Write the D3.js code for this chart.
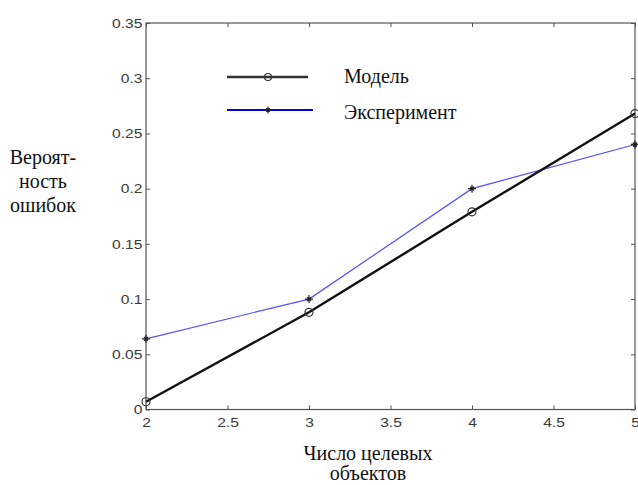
<!DOCTYPE html>
<html lang="ru">
<head>
  <meta charset="UTF-8" />
  <title>Вероятность ошибок</title>
  <script src="https://d3js.org/d3.v7.min.js"></script>
  <style>
    body { margin: 0; background: #fff; }
  </style>
</head>
<body>
  <svg id="chart" width="638" height="485"></svg>

  <script>
    // данные
    const targets = [2, 3, 4, 5];
    const model = [0.007, 0.088, 0.179, 0.268];
    const experiment = [0.064, 0.1, 0.2, 0.24];
    const xTicks = [2, 2.5, 3, 3.5, 4, 4.5, 5];
    const yTicks = [0, 0.05, 0.1, 0.15, 0.2, 0.25, 0.3, 0.35];
    const legendNames = ["Модель", "Эксперимент"];

    const svg = d3.select("#chart");
    const plotL = 146, plotR = 635, plotT = 23, plotB = 409.5;

    const x = d3.scaleLinear().domain([2, 5]).range([plotL, plotR]);
    const y = d3.scaleLinear().domain([0, 0.35]).range([plotB, plotT]);

    const axisColor = "#555";
    const tickFont = "Arial, 'Liberation Sans', sans-serif";
    const serif = "'Liberation Serif', 'Times New Roman', serif";

    // оси: тики внутрь, на всех четырёх сторонах
    function styleAxis(g) {
      g.select(".domain").remove();
      g.selectAll("line").attr("stroke", axisColor);
      g.selectAll("text")
        .attr("fill", "#3a3a3a")
        .attr("transform", "scale(1.2,1)")
        .style("font-family", tickFont)
        .style("font-size", "13px");
    }

    svg.append("g")
      .attr("transform", `translate(0,${plotB})`)
      .call(d3.axisBottom(x).tickValues(xTicks).tickSize(-4).tickPadding(8).tickFormat(d3.format("")))
      .call(styleAxis);

    svg.append("g")
      .attr("transform", `translate(0,${plotT})`)
      .call(d3.axisTop(x).tickValues(xTicks).tickSize(-4).tickFormat(""))
      .call(styleAxis);

    svg.append("g")
      .attr("transform", `translate(${plotL},0)`)
      .call(d3.axisLeft(y).tickValues(yTicks).tickSize(-4).tickPadding(3).tickFormat(d3.format("")))
      .call(styleAxis);

    svg.append("g")
      .attr("transform", `translate(${plotR},0)`)
      .call(d3.axisRight(y).tickValues(yTicks).tickSize(-4).tickFormat(""))
      .call(styleAxis);

    svg.append("rect")
      .attr("x", plotL).attr("y", plotT)
      .attr("width", plotR - plotL).attr("height", plotB - plotT)
      .attr("fill", "none").attr("stroke", axisColor).attr("stroke-width", 1.2);

    const line = d3.line().x((d, i) => x(targets[i])).y(d => y(d));

    // эксперимент
    svg.append("path")
      .datum(experiment)
      .attr("d", line)
      .attr("fill", "none")
      .attr("stroke", "#5050ff")
      .attr("stroke-width", 1.2);

    function star(g, cx, cy, r) {
      g.append("path")
        .attr("d", `M${cx - r},${cy}H${cx + r}M${cx},${cy - r}V${cy + r}` +
                   `M${cx - r * 0.5},${cy - r * 0.5}L${cx + r * 0.5},${cy + r * 0.5}` +
                   `M${cx - r * 0.5},${cy + r * 0.5}L${cx + r * 0.5},${cy - r * 0.5}`)
        .attr("stroke", "#222").attr("stroke-width", 1.2);
    }
    experiment.forEach((d, i) => star(svg, x(targets[i]), y(d), 4));

    // модель
    svg.append("path")
      .datum(model)
      .attr("d", line)
      .attr("fill", "none")
      .attr("stroke", "#111")
      .attr("stroke-width", 2.4);

    svg.selectAll(".mk")
      .data(model)
      .join("circle")
      .attr("cx", (d, i) => x(targets[i]))
      .attr("cy", d => y(d))
      .attr("r", 4)
      .attr("fill", "none")
      .attr("stroke", "#333")
      .attr("stroke-width", 1.2);

    // легенда
    const lg = svg.append("g");
    lg.append("line").attr("x1", 227).attr("x2", 308).attr("y1", 77).attr("y2", 77)
      .attr("stroke", "#333").attr("stroke-width", 2.4);
    lg.append("circle").attr("cx", 268).attr("cy", 77).attr("r", 3.5)
      .attr("fill", "none").attr("stroke", "#333").attr("stroke-width", 1.2);
    lg.append("line").attr("x1", 227).attr("x2", 313).attr("y1", 110).attr("y2", 110)
      .attr("stroke", "#0000e0").attr("stroke-width", 2.2);
    star(lg, 268, 110, 3.5);

    lg.selectAll("text")
      .data(legendNames)
      .join("text")
      .attr("x", 344)
      .attr("y", (d, i) => 83 + i * 36)
      .style("font-family", serif)
      .style("font-size", "20px")
      .attr("fill", "#111")
      .text(d => d);

    // подписи осей
    const yLabel = ["Вероят-", "ность", "ошибок"];
    svg.append("g").selectAll("text")
      .data(yLabel)
      .join("text")
      .attr("x", 43)
      .attr("y", (d, i) => 164 + i * 24)
      .attr("text-anchor", "middle")
      .style("font-family", serif)
      .style("font-size", "20px")
      .attr("fill", "#111")
      .text(d => d);

    const xLabel = ["Число целевых", "объектов"];
    svg.append("g").selectAll("text")
      .data(xLabel)
      .join("text")
      .attr("x", 368)
      .attr("y", (d, i) => 460 + i * 20)
      .attr("text-anchor", "middle")
      .style("font-family", serif)
      .style("font-size", "20px")
      .attr("fill", "#111")
      .text(d => d);
  </script>
</body>
</html>
